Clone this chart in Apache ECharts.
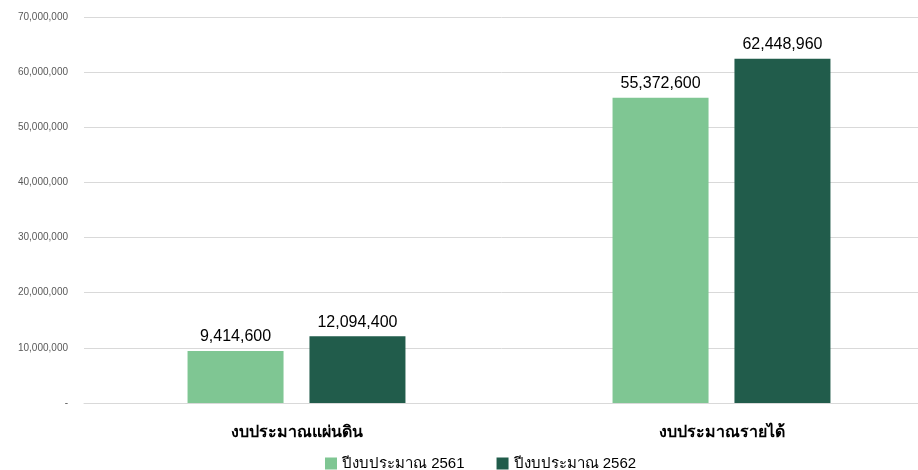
<!DOCTYPE html>
<html>
<head>
<meta charset="utf-8">
<script src="https://cdn.jsdelivr.net/npm/echarts@6/dist/echarts.min.js"></script>
<style>
  html, body { margin: 0; padding: 0; background: #fff; }
  #chart { width: 918px; height: 470px; }
</style>
</head>
<body>
<div id="chart"></div>
<script>
var categories = ['งบประมาณแผ่นดิน', 'งบประมาณรายได้'];
var seriesNames = ['ปีงบประมาณ 2561', 'ปีงบประมาณ 2562'];
var values2561 = [9414600, 55372600];
var values2562 = [12094400, 62448960];

function fmt(v) {
    if (v === 0) return '-';
    return v.toLocaleString('en-US');
}

var myChart = echarts.init(document.getElementById('chart'));

var labelStyle = {
    show: true,
    position: 'top',
    distance: 6,
    color: '#000',
    fontSize: 16,
    fontFamily: 'sans-serif',
    formatter: function (p) { return fmt(p.value); }
};

var options = {
    animation: false,
    textStyle: { fontFamily: 'sans-serif' },
    legend: {
        top: 451,
        left: 320,
        itemWidth: 12,
        itemHeight: 12,
        itemGap: 32,
        icon: 'rect',
        textStyle: { fontSize: 15, color: '#000' },
        data: seriesNames
    },
    grid: { left: 84, top: 17, width: 850, height: 386, outerBoundsMode: 'none' },
    xAxis: {
        type: 'category',
        data: categories,
        axisTick: { show: false },
        axisLine: { lineStyle: { color: '#d9d9d9' } },
        axisLabel: { color: '#000', fontSize: 16, fontWeight: 'bold', margin: 22 }
    },
    yAxis: {
        type: 'value',
        min: 0,
        max: 70000000,
        interval: 10000000,
        axisLine: { show: false },
        axisTick: { show: false },
        splitLine: { lineStyle: { color: '#d9d9d9' } },
        axisLabel: {
            color: '#595959',
            fontSize: 10,
            margin: 16,
            formatter: fmt
        }
    },
    series: [
        {
            name: seriesNames[0],
            type: 'bar',
            data: values2561,
            barWidth: 96,
            barGap: '27%',
            itemStyle: { color: '#7fc693' },
            label: labelStyle
        },
        {
            name: seriesNames[1],
            type: 'bar',
            data: values2562,
            barWidth: 96,
            barGap: '27%',
            itemStyle: { color: '#215c4b' },
            label: labelStyle
        }
    ]
};

myChart.setOption(options);
</script>
</body>
</html>
